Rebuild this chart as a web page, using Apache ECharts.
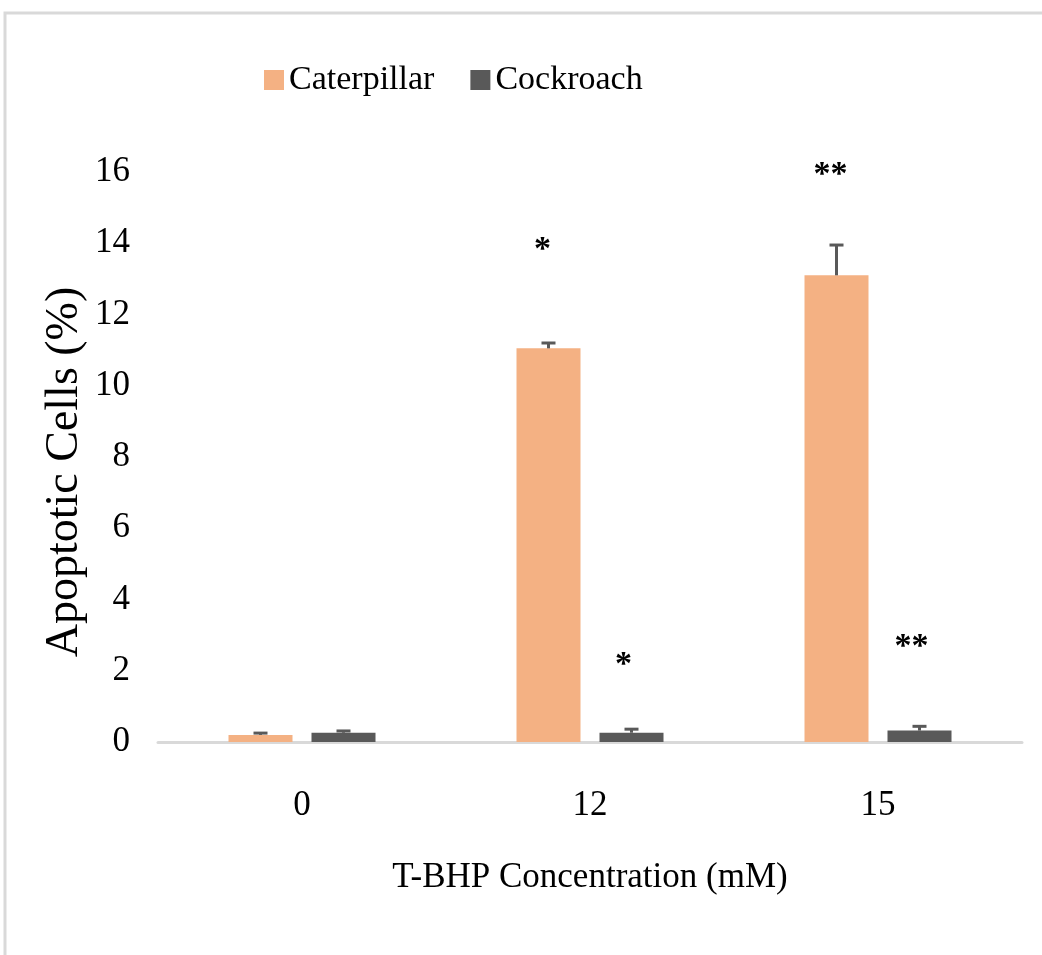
<!DOCTYPE html>
<html>
<head>
<meta charset="utf-8">
<title>Apoptotic Cells</title>
<script src="https://cdn.jsdelivr.net/npm/echarts@6/dist/echarts.min.js"></script>
<style>
  html, body { margin: 0; padding: 0; background: #fff; }
  #chart { width: 1042px; height: 955px; }
</style>
</head>
<body>
<div id="chart"></div>
<script>
(function () {
  'use strict';

  var categories = ['0', '12', '15'];
  var seriesNames = ['Caterpillar', 'Cockroach'];
  var caterpillar = [0.2, 11.05, 13.1];
  var caterpillarErr = [0.05, 0.15, 0.85];
  var cockroach = [0.26, 0.26, 0.32];
  var cockroachErr = [0.05, 0.1, 0.12];
  var caterpillarMarks = ['', '*', '**'];
  var caterpillarMarkAt = [null, 13.8, 15.9];
  var cockroachMarks = ['', '*', '**'];
  var cockroachMarkAt = [null, 2.15, 2.65];

  var orange = '#F4B183';
  var grey = '#595959';
  var font = '"Liberation Serif", "Times New Roman", serif';
  var barWidth = 64;
  var barGapPx = 19;
  var shift = (barWidth + barGapPx) / 2;

  // error bars: only the upper whisker shows above the bar
  function errorSeries(values, errs, dx) {
    var data = [];
    for (var i = 0; i < values.length; i += 1) {
      data.push([i, values[i], values[i] + errs[i]]);
    }
    return {
      type: 'custom',
      z: 5,
      silent: true,
      data: data,
      renderItem: function (params, api) {
        var base = api.coord([api.value(0), api.value(1)]);
        var top = api.coord([api.value(0), api.value(2)]);
        var x = base[0] + dx;
        var style = { stroke: grey, lineWidth: 3 };
        return {
          type: 'group',
          children: [
            { type: 'line', shape: { x1: x, y1: base[1], x2: x, y2: top[1] }, style: style },
            { type: 'line', shape: { x1: x - 7, y1: top[1], x2: x + 7, y2: top[1] }, style: style }
          ]
        };
      }
    };
  }

  // significance asterisks
  function markSeries(marks, heights, dx) {
    var data = [];
    for (var i = 0; i < marks.length; i += 1) {
      if (heights[i] !== null) {
        data.push([i, heights[i], marks[i]]);
      }
    }
    return {
      type: 'custom',
      z: 6,
      silent: true,
      data: data,
      renderItem: function (params, api) {
        var p = api.coord([api.value(0), api.value(1)]);
        return {
          type: 'text',
          x: p[0] + dx,
          y: p[1],
          style: {
            text: data[params.dataIndex][2],
            font: 'bold 34px ' + font,
            fill: '#000',
            align: 'center',
            verticalAlign: 'middle'
          }
        };
      }
    };
  }

  var chart = echarts.init(document.getElementById('chart'));

  chart.setOption({
    backgroundColor: '#fff',
    animation: false,
    graphic: [{
      type: 'rect',
      shape: { x: 5, y: 13, width: 1200, height: 1100 },
      style: { fill: 'none', stroke: '#d9d9d9', lineWidth: 3 },
      silent: true
    }],
    legend: {
      data: seriesNames,
      icon: 'rect',
      left: 259,
      top: 58,
      itemWidth: 20,
      itemHeight: 20,
      itemGap: 36,
      itemTextGap: 6,
      textStyle: { fontFamily: font, fontSize: 34, color: '#000' }
    },
    grid: { left: 158, right: 20, top: 172, bottom: 213, containLabel: false },
    xAxis: {
      type: 'category',
      data: categories,
      name: 'T-BHP Concentration (mM)',
      nameLocation: 'middle',
      nameGap: 118,
      nameTextStyle: { fontFamily: font, fontSize: 35, color: '#000' },
      axisLine: { lineStyle: { color: '#d9d9d9', width: 3 } },
      axisTick: { show: false },
      axisLabel: { fontFamily: font, fontSize: 35, color: '#000', margin: 46 }
    },
    yAxis: {
      type: 'value',
      min: 0,
      max: 16,
      interval: 2,
      name: 'Apoptotic Cells (%)',
      nameLocation: 'middle',
      nameGap: 70,
      nameMoveOverlap: false,
      nameTextStyle: { fontFamily: font, fontSize: 46, color: '#000', padding: [0, 30, 0, 0] },
      axisLine: { show: false },
      axisTick: { show: false },
      splitLine: { show: false },
      axisLabel: { fontFamily: font, fontSize: 35, color: '#000', margin: 28 }
    },
    series: [
      {
        name: seriesNames[0],
        type: 'bar',
        data: caterpillar,
        barWidth: barWidth,
        barGap: (barGapPx / barWidth * 100) + '%',
        itemStyle: { color: orange }
      },
      {
        name: seriesNames[1],
        type: 'bar',
        data: cockroach,
        barWidth: barWidth,
        itemStyle: { color: grey }
      },
      errorSeries(caterpillar, caterpillarErr, -shift),
      errorSeries(cockroach, cockroachErr, shift),
      markSeries(caterpillarMarks, caterpillarMarkAt, -shift - 6),
      markSeries(cockroachMarks, cockroachMarkAt, shift - 8)
    ]
  });
})();
</script>
</body>
</html>
